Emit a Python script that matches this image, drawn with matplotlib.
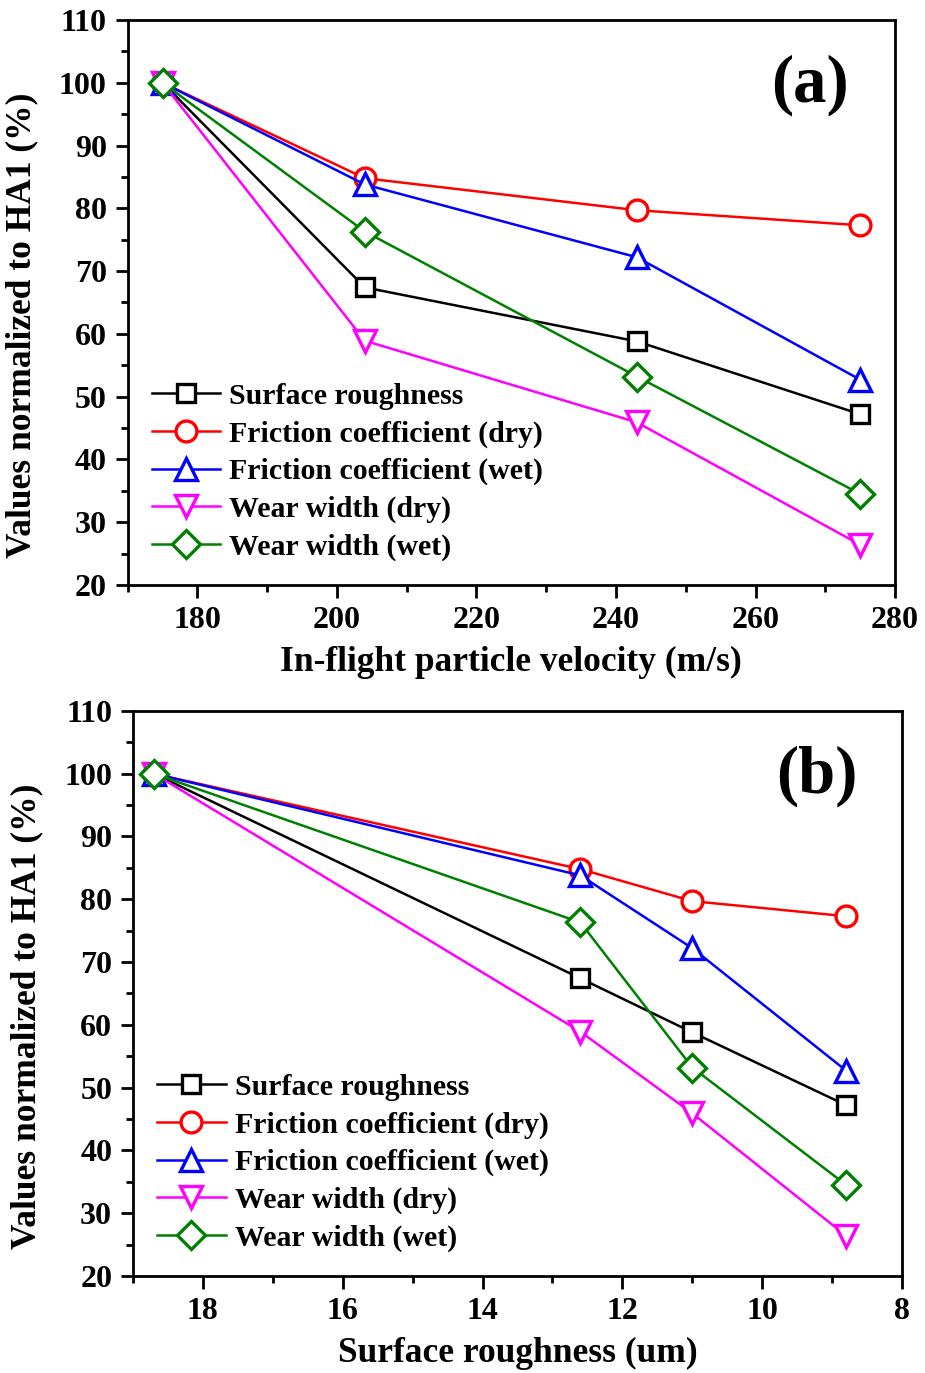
import numpy as np
import matplotlib.pyplot as plt
from matplotlib.ticker import MultipleLocator

plt.rcParams['font.family'] = ['Liberation Serif', 'DejaVu Serif']
plt.rcParams['font.weight'] = 'bold'

# data
velocity = [175, 204, 243, 275]
roughness = [18.7, 12.6, 11.0, 8.8]
labels = ["Surface roughness", "Friction coefficient (dry)", "Friction coefficient (wet)",
          "Wear width (dry)", "Wear width (wet)"]
surf_rough = [100, 67.4, 58.8, 47.2]
fric_dry = [100, 84.8, 79.7, 77.3]
fric_wet = [100, 83.8, 72.2, 52.7]
wear_dry = [100, 58.9, 45.9, 26.4]
wear_wet = [100, 76.3, 53.2, 34.5]
series = [surf_rough, fric_dry, fric_wet, wear_dry, wear_wet]

colors = ['black', 'red', 'blue', 'magenta', 'green']
markers = ['s', 'o', '^', 'v', 'D']
msizes = [13, 15, 16, 16, 14]

fig = plt.figure(figsize=(9.25, 13.73), dpi=100)
ax1 = fig.add_axes([0.138, 0.574, 0.8296, 0.4114])
ax2 = fig.add_axes([0.1438, 0.0707, 0.8314, 0.4115])

def draw(ax, x, xlabel, xlim, major, minor, tag):
    for ys, c, m, ms, lab in zip(series, colors, markers, msizes, labels):
        ax.plot(x, ys, color=c, marker=m, ms=ms, mfc='white', mec=c, mew=2.4,
                lw=1.8, label=lab)
    ax.set_xlim(*xlim)
    ax.set_ylim(20, 110)
    ax.xaxis.set_major_locator(MultipleLocator(major))
    ax.xaxis.set_minor_locator(MultipleLocator(minor))
    ax.yaxis.set_major_locator(MultipleLocator(10))
    ax.yaxis.set_minor_locator(MultipleLocator(5))
    ax.tick_params(which='both', direction='out', width=2, top=False, right=False,
                   labelsize=23)
    ax.tick_params(which='major', length=9, pad=6)
    ax.tick_params(which='minor', length=5)
    for s in ax.spines.values():
        s.set_linewidth(2)
    ax.set_xlabel(xlabel, fontsize=25.5, fontweight='bold', labelpad=8)
    ax.set_ylabel("Values normalized to HA1 (%)", fontsize=25.5, fontweight='bold')
    ax.yaxis.set_label_coords(-0.116, 0.46)
    ax.text(0.889, 0.885, tag, transform=ax.transAxes, fontsize=48, fontweight='bold',
            ha='center', va='center')
    ax.legend(loc='lower left', frameon=False, fontsize=21.5, handlelength=2.3,
              handletextpad=0.3, labelspacing=0.35, borderaxespad=0.4,
              bbox_to_anchor=(0.0, 0.0))

draw(ax1, velocity, "In-flight particle velocity (m/s)", (170, 280), 20, 10, "(a)")
draw(ax2, roughness, "Surface roughness (um)", (19, 8), 2, 1, "(b)")

fig.savefig("out.png", dpi=100)
